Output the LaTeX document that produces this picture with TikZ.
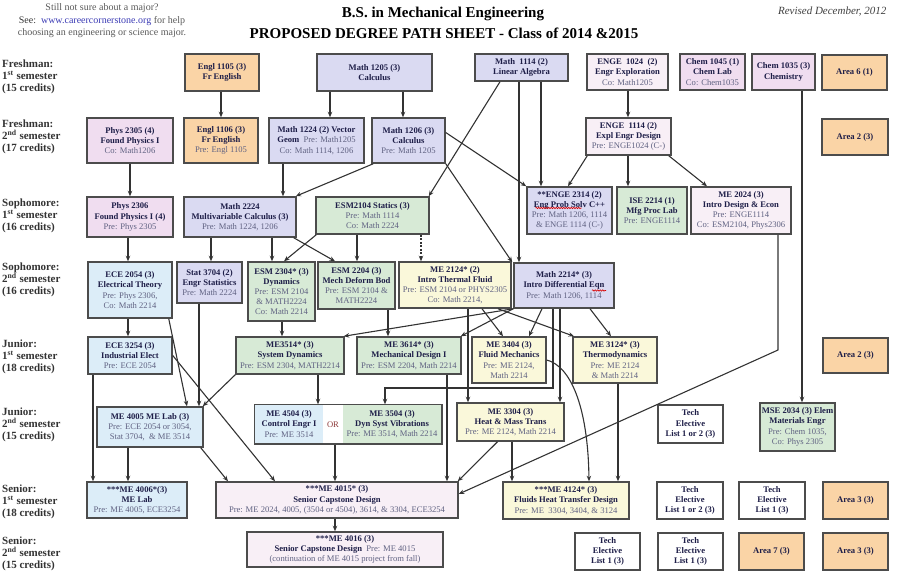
\documentclass[tikz,border=0pt]{standalone}
\usepackage{fontspec}
\setmainfont{Liberation Serif}
\usetikzlibrary{arrows.meta,positioning,calc,fit,decorations.pathmorphing}

\definecolor{englc}{HTML}{FAD4A6}
\definecolor{mathc}{HTML}{DADAF2}
\definecolor{physc}{HTML}{F0DDF0}
\definecolor{engec}{HTML}{F8EFF6}
\definecolor{esmc}{HTML}{D7EAD6}
\definecolor{thermc}{HTML}{FAF8DA}
\definecolor{elecc}{HTML}{DCEDF8}
\definecolor{titlec}{HTML}{1E1E48}
\definecolor{prec}{HTML}{606282}
\definecolor{urlc}{HTML}{3A3AB4}
\definecolor{orc}{HTML}{8E3B3B}

\newcommand{\pre}{\mdseries\color{prec}}

\begin{document}
\begin{tikzpicture}[
  x=1pt, y=-1pt,
  >={Stealth[length=5.5pt,width=4.5pt]},
  course/.style={draw=black!70, line width=1.5pt, inner sep=0.5pt, align=center, text=titlec,
                 font=\fontsize{8.6}{10.2}\selectfont\bfseries},
  wh/.style 2 args={minimum width=#1pt, minimum height=#2pt},
  arr/.style={->, draw=black!80, line width=1.1pt},
  sem/.style={anchor=west, align=left, inner sep=0pt, text=black!80,
              font=\fontsize{11}{12}\selectfont\bfseries},
  squiggle/.style={draw=red!85!black, line width=0.6pt, decorate,
                   decoration={snake, amplitude=0.7pt, segment length=2.5pt}},
]
\useasboundingbox (0,0) rectangle (898,574);

% Header
\node[align=center, text=black!65, font=\fontsize{10}{12.5}\selectfont] (note) at (102,21)
  {Still not sure about a major?\\{\color{black!80}See:}\ \ {\color{urlc}www.careercornerstone.org} for help\\choosing an engineering or science major.};
\node[font=\fontsize{15}{17}\selectfont\bfseries] (title1) at (443,14) {B.S. in Mechanical Engineering};
\node[font=\fontsize{15}{17}\selectfont\bfseries] (title2) at (444,33) {PROPOSED DEGREE PATH SHEET - Class of 2014 \&2015};
\node[anchor=east, text=black!75, font=\fontsize{11}{13}\selectfont\itshape] (rev) at (890,12) {Revised December, 2012};

% Semester labels
\node[sem] (s1) at (2,77)  {Freshman:\\1\textsuperscript{st} semester\\(15 credits)};
\node[sem] (s2) at (2,137) {Freshman:\\2\textsuperscript{nd} semester\\(17 credits)};
\node[sem] (s3) at (2,216) {Sophomore:\\1\textsuperscript{st} semester\\(16 credits)};
\node[sem] (s4) at (2,280) {Sophomore:\\2\textsuperscript{nd} semester\\(16 credits)};
\node[sem] (s5) at (2,357) {Junior:\\1\textsuperscript{st} semester\\(18 credits)};
\node[sem] (s6) at (2,425) {Junior:\\2\textsuperscript{nd} semester\\(15 credits)};
\node[sem] (s7) at (2,502) {Senior:\\1\textsuperscript{st} semester\\(18 credits)};
\node[sem] (s8) at (2,554) {Senior:\\2\textsuperscript{nd} semester\\(15 credits)};

% Freshman 1st semester
\node[course, fill=englc, wh={74}{37}]  (e1105) at (222,72.5)   {Engl 1105 (3)\\Fr English};
\node[course, fill=mathc, wh={115}{37}] (m1205) at (374.5,72.5) {Math 1205 (3)\\Calculus};
\node[course, fill=mathc, wh={93}{27}]  (m1114) at (521.5,67.5) {Math\ \ 1114 (2)\\Linear Algebra};
\node[course, fill=engec, wh={81}{36}]  (e1024) at (627.5,72)   {ENGE\ \ 1024\ \ (2)\\Engr Exploration\\{\pre Co: Math1205}};
\node[course, fill=physc, wh={65}{36}]  (c1045) at (712.5,72)   {Chem 1045 (1)\\Chem Lab\\{\pre Co: Chem1035}};
\node[course, fill=physc, wh={63}{36}]  (c1035) at (783.5,72)   {Chem 1035 (3)\\Chemistry};
\node[course, fill=englc, wh={65}{35}]  (a6)    at (854.5,72.5) {Area 6 (1)};

% Freshman 2nd semester
\node[course, fill=physc, wh={86}{45}] (p2305) at (130,140.5)   {Phys 2305 (4)\\Found Physics I\\{\pre Co: Math1206}};
\node[course, fill=englc, wh={74}{45}] (e1106) at (221,140.5)   {Engl 1106 (3)\\Fr English\\{\pre Pre: Engl 1105}};
\node[course, fill=mathc, wh={95}{45}] (m1224) at (316.5,140.5) {Math 1224 (2) Vector\\Geom\ \ {\pre Pre: Math1205}\\{\pre Co: Math 1114, 1206}};
\node[course, fill=mathc, wh={73}{45}] (m1206) at (408.5,140.5) {Math 1206 (3)\\Calculus\\{\pre Pre: Math 1205}};
\node[course, fill=engec, wh={85}{37}] (e1114) at (628.5,136.5) {ENGE\ \ 1114 (2)\\Expl Engr Design\\{\pre Pre: ENGE1024 (C-)}};
\node[course, fill=englc, wh={66}{36}] (a2a)   at (855,137)     {Area 2 (3)};

% Sophomore 1st semester
\node[course, fill=physc, wh={86}{40}]  (p2306)   at (130,217)     {Phys 2306\\Found Physics I (4)\\{\pre Pre: Phys 2305}};
\node[course, fill=mathc, wh={112}{40}] (m2224)   at (240,217)     {Math 2224\\Multivariable Calculus (3)\\{\pre Pre: Math 1224, 1206}};
\node[course, fill=esmc, wh={113}{37}]  (esm2104) at (372.5,215.5) {ESM2104 Statics (3)\\{\pre Pre: Math 1114}\\{\pre Co: Math 2224}};
\node[course, fill=mathc, wh={85}{47}]  (e2314)   at (569.5,210.5) {**ENGE 2314 (2)\\Eng Prob Solv C++\\{\pre Pre: Math 1206, 1114}\\{\pre \& ENGE 1114 (C-)}};
\node[course, fill=esmc, wh={70}{47}]   (ise2214) at (652,210.5)   {ISE 2214 (1)\\Mfg Proc Lab\\{\pre Pre: ENGE1114}};
\node[course, fill=engec, wh={100}{47}] (me2024)  at (741,210.5)   {ME 2024 (3)\\Intro Design \& Econ\\{\pre Pre: ENGE1114}\\{\pre Co: ESM2104, Phys2306}};

% Sophomore 2nd semester
\node[course, fill=elecc, wh={84}{56}]   (ece2054) at (130,290)     {ECE 2054 (3)\\Electrical Theory\\{\pre Pre: Phys 2306,}\\{\pre Co: Math 2214}};
\node[course, fill=mathc, wh={65}{41}]   (st3704)  at (209.5,282.5) {Stat 3704 (2)\\Engr Statistics\\{\pre Pre: Math 2224}};
\node[course, fill=esmc, wh={67}{59}]    (esm2304) at (281.5,291.5) {ESM 2304* (3)\\Dynamics\\{\pre Pre: ESM 2104}\\{\pre \& MATH2224}\\{\pre Co: Math 2214}};
\node[course, fill=esmc, wh={77}{47}]    (esm2204) at (356.5,285.5) {ESM 2204 (3)\\Mech Deform Bod\\{\pre Pre: ESM 2104 \&}\\{\pre MATH2224}};
\node[course, fill=thermc, wh={112}{46}] (me2124)  at (455,285)     {ME 2124* (2)\\Intro Thermal Fluid\\{\pre Pre: ESM 2104 or PHYS2305}\\{\pre Co: Math 2214,}};
\node[course, fill=mathc, wh={100}{45}]  (m2214)   at (564,285.5)   {Math 2214* (3)\\Intro Differential Eqn\\{\pre Pre: Math 1206, 1114}};

% Junior 1st semester
\node[course, fill=elecc, wh={84}{37}]  (ece3254) at (130,355.5) {ECE 3254 (3)\\Industrial Elect\\{\pre Pre: ECE 2054}};
\node[course, fill=esmc, wh={108}{37}]  (me3514)  at (290,355.5) {ME3514* (3)\\System Dynamics\\{\pre Pre: ESM 2304, MATH2214}};
\node[course, fill=esmc, wh={104}{37}]  (me3614)  at (409,355.5) {ME 3614* (3)\\Mechanical Design I\\{\pre Pre: ESM 2204, Math 2214}};
\node[course, fill=thermc, wh={74}{46}] (me3404)  at (509,360)   {ME 3404 (3)\\Fluid Mechanics\\{\pre Pre: ME 2124,}\\{\pre Math 2214}};
\node[course, fill=thermc, wh={84}{46}] (me3124)  at (615,360)   {ME 3124* (3)\\Thermodynamics\\{\pre Pre: ME 2124}\\{\pre \& Math 2214}};
\node[course, fill=englc, wh={65}{35}]  (a2b)     at (855.5,355.5) {Area 2 (3)};

% Junior 2nd semester
\node[course, fill=elecc, wh={106}{40}] (me4005) at (150,427) {ME 4005 ME Lab (3)\\{\pre Pre: ECE 2054 or 3054,}\\{\pre Stat 3704,\ \ \& ME 3514}};
\node[course, draw=none, fill=elecc, wh={68}{38}] (me4504) at (289,424) {ME 4504 (3)\\Control Engr I\\{\pre Pre: ME 3514}};
\node[course, draw=none, fill=esmc, wh={98}{38}]  (me3504) at (392,424) {ME 3504 (3)\\Dyn Syst Vibrations\\{\pre Pre: ME 3514, Math 2214}};
\node[text=orc, font=\fontsize{8.6}{10}\selectfont] (or) at (333,425) {OR};
\node[draw=black!70, line width=1.5pt, inner sep=0pt, fit=(me4504)(me3504)] (orbox) {};
\node[course, fill=thermc, wh={107}{38}] (me3304)  at (510.5,422) {ME 3304 (3)\\Heat \& Mass Trans\\{\pre Pre: ME 2124, Math 2214}};
\node[course, fill=white, wh={65}{38}]   (te1)     at (690.5,424) {Tech\\Elective\\List 1 or 2 (3)};
\node[course, fill=esmc, wh={75}{48}]    (mse2034) at (797.5,427) {MSE 2034 (3) Elem\\Materials Engr\\{\pre Pre: Chem 1035,}\\{\pre Co: Phys 2305}};

% Senior 1st semester
\node[course, fill=elecc, wh={100}{36}]  (me4006) at (137,500)   {***ME 4006*(3)\\ME Lab\\{\pre Pre: ME 4005, ECE3254}};
\node[course, fill=engec, wh={242}{36}]  (me4015) at (337,500)   {***ME 4015* (3)\\Senior Capstone Design\\{\pre Pre: ME 2024, 4005, (3504 or 4504), 3614, \& 3304, ECE3254}};
\node[course, fill=thermc, wh={126}{37}] (me4124) at (566,500.5) {***ME 4124* (3)\\Fluids Heat Transfer Design\\{\pre Pre: ME\ \ 3304, 3404, \& 3124}};
\node[course, fill=white, wh={66}{37}]   (te2)    at (690,500.5) {Tech\\Elective\\List 1 or 2 (3)};
\node[course, fill=white, wh={66}{37}]   (te3)    at (772,500.5) {Tech\\Elective\\List 1 (3)};
\node[course, fill=englc, wh={65}{37}]   (a3a)    at (855.5,500.5) {Area 3 (3)};

% Senior 2nd semester
\node[course, fill=engec, wh={196}{35}] (me4016) at (345,549.5)   {***ME 4016 (3)\\Senior Capstone Design\ \ {\pre Pre: ME 4015}\\{\pre (continuation of ME 4015 project from fall)}};
\node[course, fill=white, wh={65}{37}]  (te4)    at (607.5,551.5) {Tech\\Elective\\List 1 (3)};
\node[course, fill=white, wh={65}{37}]  (te5)    at (690.5,551.5) {Tech\\Elective\\List 1 (3)};
\node[course, fill=englc, wh={65}{37}]  (a7)     at (771.5,551.5) {Area 7 (3)};
\node[course, fill=englc, wh={65}{37}]  (a3b)    at (855.5,551.5) {Area 3 (3)};

% spell-check marks
\draw[squiggle] ([xshift=-34pt,yshift=2.5pt]e2314.center) -- ([xshift=12pt,yshift=2.5pt]e2314.center);
\draw[squiggle] ([xshift=28pt,yshift=-5pt]m2214.center) -- ([xshift=42pt,yshift=-5pt]m2214.center);

% Prerequisite arrows: freshman
\draw[arr] (e1105.south -| 221,0) -- (e1106.north -| 221,0);
\draw[arr] (m1205.south -| 330,0) -- (m1224.north -| 330,0);
\draw[arr] (m1205.south -| 403,0) -- (m1206.north -| 403,0);
\draw[arr] (e1024.south -| 628,0) -- (e1114.north -| 628,0);
\draw[arr] (m1114.south -| 500,0) -- ([xshift=-1pt]esm2104.north east);
\draw[arr] (m1114.south -| 519,0) -- (m2214.north -| 519,0);
\draw[arr] (m1114.south -| 541,0) -- (e2314.north -| 541,0);
\draw[arr] (c1035.south -| 802,0) -- (mse2034.north -| 802,0);

% into sophomore 1st
\draw[arr] (p2305.south -| 130,0) -- (p2306.north -| 130,0);
\draw[arr] (m1224.south -| 283,0) -- (m2224.north -| 283,0);
\draw[arr] ([xshift=2pt]m1206.south west) -- ([xshift=-1pt]m2224.north east);
\draw[arr] (m1206.south east) -- ([xshift=-1pt]m2214.north west);
\draw[arr] ([yshift=8pt]m1206.east) -- (e2314.north west);
\draw[arr] ([xshift=2pt]e1114.south west) -- (e2314.north -| 568,0);
\draw[arr] (e1114.south -| 628,0) -- (ise2214.north -| 628,0);
\draw[arr] ([xshift=-3pt]e1114.south east) -- (me2024.north -| 707,0);

% into sophomore 2nd
\draw[arr] (p2306.south -| 128,0) -- (ece2054.north -| 128,0);
\draw[arr] (m2224.south -| 211,0) -- (st3704.north -| 211,0);
\draw[arr] (m2224.south -| 272,0) -- (esm2304.north -| 272,0);
\draw[arr] ([xshift=-3pt]m2224.south east) -- (esm2204.north -| 335,0);
\draw[arr] ([xshift=1pt]esm2104.south west) -- (esm2304.north -| 284,0);
\draw[arr] (esm2104.south -| 357,0) -- (esm2204.north -| 357,0);
\draw[arr, dash pattern=on 2pt off 1.5pt] (esm2104.south -| 421,0) -- (me2124.north -| 421,0);

% into junior 1st
\draw[arr] (ece2054.south -| 128,0) -- (ece3254.north -| 128,0);
\draw[arr] (esm2304.south -| 282,0) -- (me3514.north -| 282,0);
\draw[arr] (esm2204.south -| 388,0) -- (me3614.north -| 388,0);
\draw[arr] (m2214.south west) -- ([xshift=-1pt]me3514.north east);
\draw[arr] (m2214.south west) -- ([xshift=-1pt]me3614.north east);
\draw[arr] (me2124.south -| 482,0) -- (me3404.north -| 503,0);
\draw[arr] (m2214.south -| 542,0) -- (me3404.north -| 529,0);
\draw[arr] (me2124.south -| 498,0) -- (me3124.north -| 574,0);
\draw[arr] (m2214.south -| 590,0) -- (me3124.north -| 611,0);

% into junior 2nd
\draw[arr] (me2124.south -| 468,0) -- (me3304.north -| 468,0);
\draw[arr] (m2214.south -| 560,0) -- (me3304.north -| 560,0);
\draw[arr] (m2214.south -| 553,0) |- (385,388) -- (me3504.north -| 385,0);
\draw[arr] (me3514.south -| 318,0) -- (me4504.north -| 318,0);
\draw[arr] ([xshift=-4pt]ece2054.south east) -- (me4005.north -| 187,0);
\draw[arr] (st3704.south -| 199,0) -- (me4005.north -| 199,0);
\draw[arr] (me3514.south west) -- ([xshift=-1pt]me4005.north east);

% into senior 1st
\draw[arr] (ece3254.south -| 93,0) -- (me4006.north -| 93,0);
\draw[arr] (me4005.south -| 128,0) -- (me4006.north -| 128,0);
\draw[arr] ([xshift=-3pt]me4005.south east) -- (me4015.north -| 228,0);
\draw[arr] (ece3254.east) -- (me4015.north -| 275,0);
\draw[arr] (orbox.south -| 335,0) -- (me4015.north -| 335,0);
\draw[arr] (me3614.south -| 447,0) -- (me4015.north -| 447,0);
\draw[arr] ([xshift=-13pt]me3304.south) -- ([xshift=-1pt]me4015.north east);
\draw[arr] (me2024.south -| 778,0) -- (778,350) -- ([yshift=6pt]me4015.east);
\draw[arr] (me3304.south -| 512,0) -- (me4124.north -| 512,0);
\draw[arr] (me3404.east) .. controls (570,366) and (588,405) .. (me4124.north -| 589,0);
\draw[arr] (me3124.south -| 618,0) -- (me4124.north -| 618,0);

% senior 2nd
\draw[arr] (me4015.south -| 335,0) -- (me4016.north -| 335,0);

\end{tikzpicture}
\end{document}
